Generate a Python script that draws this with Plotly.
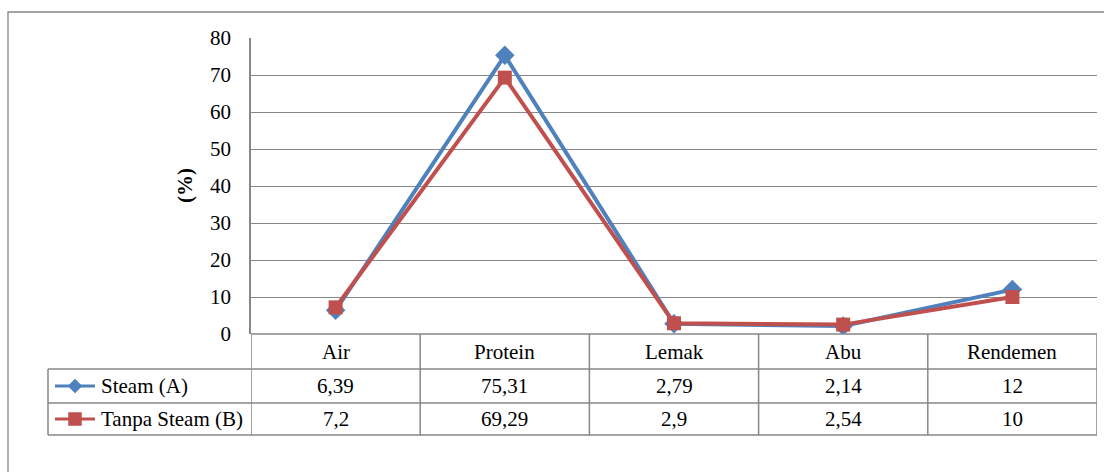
import plotly.graph_objects as go

categories = ["Air", "Protein", "Lemak", "Abu", "Rendemen"]
steam_a = [6.39, 75.31, 2.79, 2.14, 12]
tanpa_b = [7.2, 69.29, 2.9, 2.54, 10]
series_names = ["Steam (A)", "Tanpa Steam (B)"]
y_ticks = [0, 10, 20, 30, 40, 50, 60, 70, 80]

W, H = 1104, 472
BLUE = "#4F81BD"
RED = "#C0504D"
GRID = "#878787"
FONT = "Liberation Serif"
FS = 21

def px(x):
    return x / W

def py(y):
    return 1 - y / H

def fmt(v):
    return f"{v:g}".replace(".", ",")

# layout geometry (pixels)
PL, PR, PT, PB = 251, 1097, 38, 334
LEG_L = 48
ROW1, ROW2, ROWB = 369, 403, 435

fig = go.Figure()
fig.add_trace(go.Scatter(x=categories, y=steam_a, mode="lines+markers", name=series_names[0],
                         line=dict(color=BLUE, width=4),
                         marker=dict(symbol="diamond", size=15, color=BLUE), showlegend=False))
fig.add_trace(go.Scatter(x=categories, y=tanpa_b, mode="lines+markers", name=series_names[1],
                         line=dict(color=RED, width=4),
                         marker=dict(symbol="square", size=14, color=RED), showlegend=False))

shapes = []
# outer frame
shapes.append(dict(type="rect", xref="paper", yref="paper", x0=px(8), x1=px(1120), y0=py(12), y1=py(490),
                   line=dict(color=GRID, width=1.3), layer="below"))

# legend glyphs inside the table
for i, (nm, col, sym) in enumerate([(series_names[0], BLUE, "diamond"), (series_names[1], RED, "square")]):
    yc = (ROW1 + ROW2) / 2 if i == 0 else (ROW2 + ROWB) / 2
    shapes.append(dict(type="line", xref="paper", yref="paper", x0=px(55), x1=px(95), y0=py(yc), y1=py(yc),
                       line=dict(color=col, width=3)))
    cx = 75
    if sym == "diamond":
        r = 7
        path = (f"M {px(cx)},{py(yc - r)} L {px(cx + r)},{py(yc)} L {px(cx)},{py(yc + r)} "
                f"L {px(cx - r)},{py(yc)} Z")
        shapes.append(dict(type="path", xref="paper", yref="paper", path=path, fillcolor=col,
                           line=dict(color=col, width=0.5)))
    else:
        r = 6.5
        shapes.append(dict(type="rect", xref="paper", yref="paper", x0=px(cx - r), x1=px(cx + r),
                           y0=py(yc + r), y1=py(yc - r), fillcolor=col, line=dict(color=col, width=0.5)))
    fig.add_annotation(x=px(99), y=py(yc), xref="paper", yref="paper", text=nm, showarrow=False,
                       xanchor="left", yanchor="middle", font=dict(family=FONT, size=FS, color="black"))

# table horizontals
shapes.append(dict(type="line", xref="x", yref="paper", x0=-0.5, x1=len(categories) - 0.5, y0=py(PB), y1=py(PB),
                   line=dict(color=GRID, width=1.5)))
for yy in [ROW1, ROW2, ROWB]:
    shapes.append(dict(type="line", xref="paper", yref="paper", x0=px(LEG_L), x1=px(PR), y0=py(yy), y1=py(yy),
                       line=dict(color=GRID, width=1.5)))
# table verticals
for k in range(len(categories) + 1):
    shapes.append(dict(type="line", xref="x", yref="paper", x0=k - 0.5, x1=k - 0.5, y0=py(PB), y1=py(ROWB),
                       line=dict(color=GRID, width=1.5)))
shapes.append(dict(type="line", xref="paper", yref="paper", x0=px(LEG_L), x1=px(LEG_L), y0=py(ROW1), y1=py(ROWB),
                   line=dict(color=GRID, width=1.5)))

# table text
for i, c in enumerate(categories):
    fig.add_annotation(x=c, y=py((PB + ROW1) / 2), xref="x", yref="paper", text=c, showarrow=False,
                       yanchor="middle", font=dict(family=FONT, size=FS, color="black"))
    fig.add_annotation(x=c, y=py((ROW1 + ROW2) / 2), xref="x", yref="paper", text=fmt(steam_a[i]), showarrow=False,
                       yanchor="middle", font=dict(family=FONT, size=FS, color="black"))
    fig.add_annotation(x=c, y=py((ROW2 + ROWB) / 2), xref="x", yref="paper", text=fmt(tanpa_b[i]), showarrow=False,
                       yanchor="middle", font=dict(family=FONT, size=FS, color="black"))

# y-axis title
fig.add_annotation(x=px(185), y=py((PT + PB) / 2), xref="paper", yref="paper", text="<b>(%)</b>", showarrow=False,
                   textangle=-90, xanchor="center", yanchor="middle", font=dict(family=FONT, size=FS, color="black"))

fig.update_layout(
    width=W, height=H, margin=dict(l=0, r=0, t=0, b=0, pad=0, autoexpand=False),
    paper_bgcolor="white", plot_bgcolor="white",
    shapes=shapes,
    xaxis=dict(domain=[px(PL), px(PR)], range=[-0.5, len(categories) - 0.5], showticklabels=False,
               showgrid=False, zeroline=False, showline=False, ticks="", fixedrange=True),
    yaxis=dict(domain=[py(PB), py(PT)], range=[0, 80], tickvals=y_ticks, showgrid=True, gridcolor=GRID,
               gridwidth=1.3, zeroline=False, showline=True, linecolor=GRID, linewidth=1.5,
               ticks="", ticklabelstandoff=14, fixedrange=True,
               tickfont=dict(family=FONT, size=FS, color="black")),
)

fig.write_html("out.html", config={"displayModeBar": False})
